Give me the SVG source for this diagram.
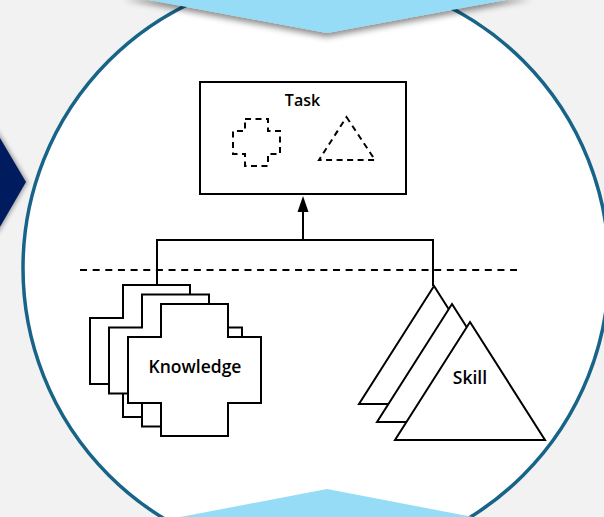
<svg xmlns="http://www.w3.org/2000/svg" width="604" height="517" viewBox="0 0 604 517">
<defs>
<style>
.sh{fill:#fff;stroke:#000;stroke-width:2;stroke-linejoin:miter}
.dsh{fill:none;stroke:#000;stroke-width:2;stroke-dasharray:6 4.5}
.ln{fill:none;stroke:#000;stroke-width:2}
.lbl{font-family:"Open Sans","Noto Sans","Liberation Sans",sans-serif;font-size:17.5px;font-weight:600;fill:#000;text-anchor:middle}
</style>
<filter id="shadow" x="-20%" y="-50%" width="140%" height="200%">
<feDropShadow dx="0" dy="4" stdDeviation="3" flood-color="#000" flood-opacity="0.45"/>
</filter>
<filter id="shadowR" x="-50%" y="-20%" width="200%" height="140%">
<feDropShadow dx="2" dy="0" stdDeviation="2" flood-color="#000" flood-opacity="0.35"/>
</filter>
<marker id="arr" markerUnits="userSpaceOnUse" markerWidth="17" markerHeight="12" viewBox="0 0 17 12" refX="0" refY="6" orient="auto">
<path d="M0,0.5 L16,6 L0,11.5 z" fill="#000"/>
</marker>
</defs>
<g id="background">
<rect x="0" y="0" width="604" height="517" fill="#f2f2f2"/>
<circle cx="316" cy="268" r="293" fill="#fff" stroke="#186488" stroke-width="3.5"/>
<polygon points="123,-5 327,33 532,-5" fill="#97dcf7" filter="url(#shadow)"/>
<polygon points="154,522 327,489 499,522" fill="#97dcf7"/>
<polygon points="-5,129.5 26,182 -5,235.5" fill="#021e5e" filter="url(#shadowR)"/>
</g>
<g id="connectors">
<line class="ln" x1="80" y1="270" x2="517" y2="270" style="stroke-dasharray:7 5.65"/>
<path class="ln" d="M157,284 V240 H433 V286"/>
<line class="ln" x1="303" y1="240" x2="303" y2="212" marker-end="url(#arr)"/>
</g>
<g id="task">
<rect class="sh" x="200" y="82" width="206" height="112"/>
<text class="lbl" x="302.5" y="106" style="font-size:16px">Task</text>
<path class="dsh" d="M245,119 H268 V131 H280 V154 H268 V166 H245 V154 H233 V131 H245 Z"/>
<path class="dsh" d="M346.5,117 L375,160 H319 Z"/>
</g>
<g id="knowledge">
<path class="sh" d="M123,285 H190 V318 H223 V384 H190 V417 H123 V384 H90 V318 H123 Z"/>
<path class="sh" d="M142,294.5 H209 V327.5 H242 V393.5 H209 V426.5 H142 V393.5 H109 V327.5 H142 Z"/>
<path class="sh" d="M161,304 H228 V337 H261 V403 H228 V436 H161 V403 H128 V337 H161 Z"/>
<text class="lbl" x="195" y="373">Knowledge</text>
</g>
<g id="skill">
<path class="sh" d="M434,286 L509,404 H359 Z"/>
<path class="sh" d="M452,304 L527,422 H377 Z"/>
<path class="sh" d="M470,322 L545,440 H395 Z"/>
<text class="lbl" x="470" y="384">Skill</text>
</g>
</svg>
